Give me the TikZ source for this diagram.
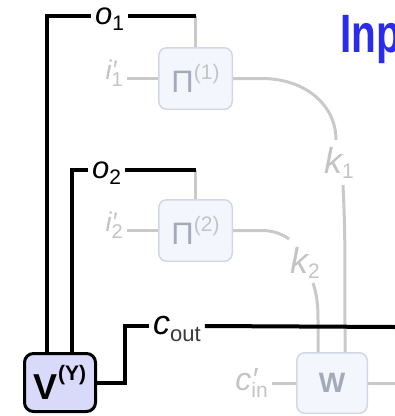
\documentclass[tikz,border=0pt]{standalone}
\usepackage{fontspec}
\setmainfont{Liberation Sans}
\newfontfamily\inpfont[FakeStretch=0.75]{Liberation Sans}
\usetikzlibrary{calc}
\definecolor{gtxt}{HTML}{C4C4C4}
\definecolor{gln}{HTML}{C9C9C9}
\definecolor{pfill}{HTML}{F4F6FD}
\definecolor{pdraw}{HTML}{D3D6E6}
\definecolor{pglyph}{HTML}{A6A9B9}
\definecolor{vfill}{HTML}{D9D9FA}
\definecolor{inpblue}{HTML}{2B2BEE}
\definecolor{subdark}{HTML}{3A3A3A}
\newcommand\fsz[1]{\fontsize{#1}{#1}\selectfont}
\begin{document}
\begin{tikzpicture}[x=1pt,y=-1pt,
  bline/.style={line width=4pt,black},
  gline/.style={line width=3pt,gln},
  pbox/.style={draw=pdraw,fill=pfill,line width=1.5pt,rounded corners=8pt,minimum width=73.5pt,minimum height=61.5pt,inner sep=0pt},
  vbox/.style={draw=black,fill=vfill,line width=3pt,rounded corners=9pt,minimum width=71pt,minimum height=58pt,inner sep=0pt},
  lbl/.style={inner xsep=4pt,inner ysep=0pt,text=black},
  glbl/.style={inner xsep=4pt,inner ysep=0pt,text=gtxt},
]
\useasboundingbox (0,0) rectangle (395,416);
\clip (0,0) rectangle (395,416);

% boxes
\node[pbox] (P1) at (195.5,78.5) {{\fsz{31}\color{pglyph}Π}\raisebox{13pt}{\fsz{21}\color{gtxt}(1)}};
\node[pbox] (P2) at (195.5,230.5) {{\fsz{31}\color{pglyph}Π}\raisebox{13pt}{\fsz{21}\color{gtxt}(2)}};
\node[pbox,minimum width=70.5pt,minimum height=60.5pt] (W) at (332,383) {\fsz{28}\bfseries\color{pglyph}W};
\node[vbox] (V) at (60,382.5) {{\fsz{36}\bfseries V}\raisebox{19pt}{\fsz{21}\bfseries (Y)}};

% labels
\node[lbl,anchor=west] (o1) at (91,16) {\fsz{31}\itshape o\smash{\raisebox{-6pt}{\fsz{21}\upshape 1}}};
\node[lbl,anchor=west] (o2) at (88,170) {\fsz{31}\itshape o\smash{\raisebox{-6pt}{\fsz{21}\upshape 2}}};
\node[glbl,anchor=east] (i1) at (127,70) {\fsz{27}\itshape i\rlap{′}\smash{\raisebox{-7pt}{\fsz{20}\upshape 1}}};
\node[glbl,anchor=east] (i2) at (127,222) {\fsz{27}\itshape i\rlap{′}\smash{\raisebox{-7pt}{\fsz{20}\upshape 2}}};
\node[glbl] (k1) at (339,160.5) {\fsz{36}\itshape k\smash{\raisebox{-5pt}{\fsz{21}\upshape 1}}};
\node[glbl] (k2) at (305,260) {\fsz{36}\itshape k\smash{\raisebox{-5pt}{\fsz{21}\upshape 2}}};
\node[glbl,anchor=east] (cin) at (272,380) {\fsz{32}\itshape c\rlap{′}\smash{\raisebox{-7pt}{\fsz{21}\upshape in}}};
\node[lbl,anchor=west] (cout) at (149,326) {\fsz{34}\itshape c\smash{\raisebox{-7pt}{\fsz{22}\upshape\color{subdark}out}}};
\node[anchor=base west,inner sep=0pt,text=inpblue] (inp) at (340,52) {\inpfont\bfseries\fsz{54}Inp};

\coordinate (E1) at (395,327);
\coordinate (E2) at (395,383);
\coordinate (k1top) at (336,140);
\coordinate (k1bot) at (343,185);
\coordinate (k2top) at (289,239);
\coordinate (k2bot) at (313,283);

% gray connectors
\draw[gline] (o1.east -| P1.north) -- (P1.north);
\draw[gline] (o2.east -| P2.north) -- (P2.north);
\draw[gline] (i1.east |- P1.west) -- (P1.west);
\draw[gline] (i2.east |- P2.west) -- (P2.west);
\draw[gline] (P1.east) -- (262,78.5) .. controls (304,78.5) and (336,104) .. (k1top);
\draw[gline] (k1bot) .. controls (345,230) .. ($(W.north)+(13,0)$);
\draw[gline] (P2.east) -- (262,230.5) .. controls (273,230.5) and (282,234) .. (k2top);
\draw[gline] (k2bot) .. controls (317,295) and (318,305) .. (318,320) -- ($(W.north)+(-14,0)$);
\draw[gline] (cin.east |- W.west) -- (W.west);
\draw[gline] (W.east) -- (E2);

% black connectors
\draw[bline] ($(V.north)+(-13,0)$) |- (o1.west);
\draw[bline] (o1.east) -- (o1.east -| P1.north);
\draw[bline] ($(V.north)+(12,0)$) |- (o2.west);
\draw[bline] (o2.east) -- (o2.east -| P2.north);
\draw[bline] (V.east) -- ++(28,0) |- (cout.west);
\draw[bline] (cout.east) -- (E1);
\end{tikzpicture}
\end{document}
